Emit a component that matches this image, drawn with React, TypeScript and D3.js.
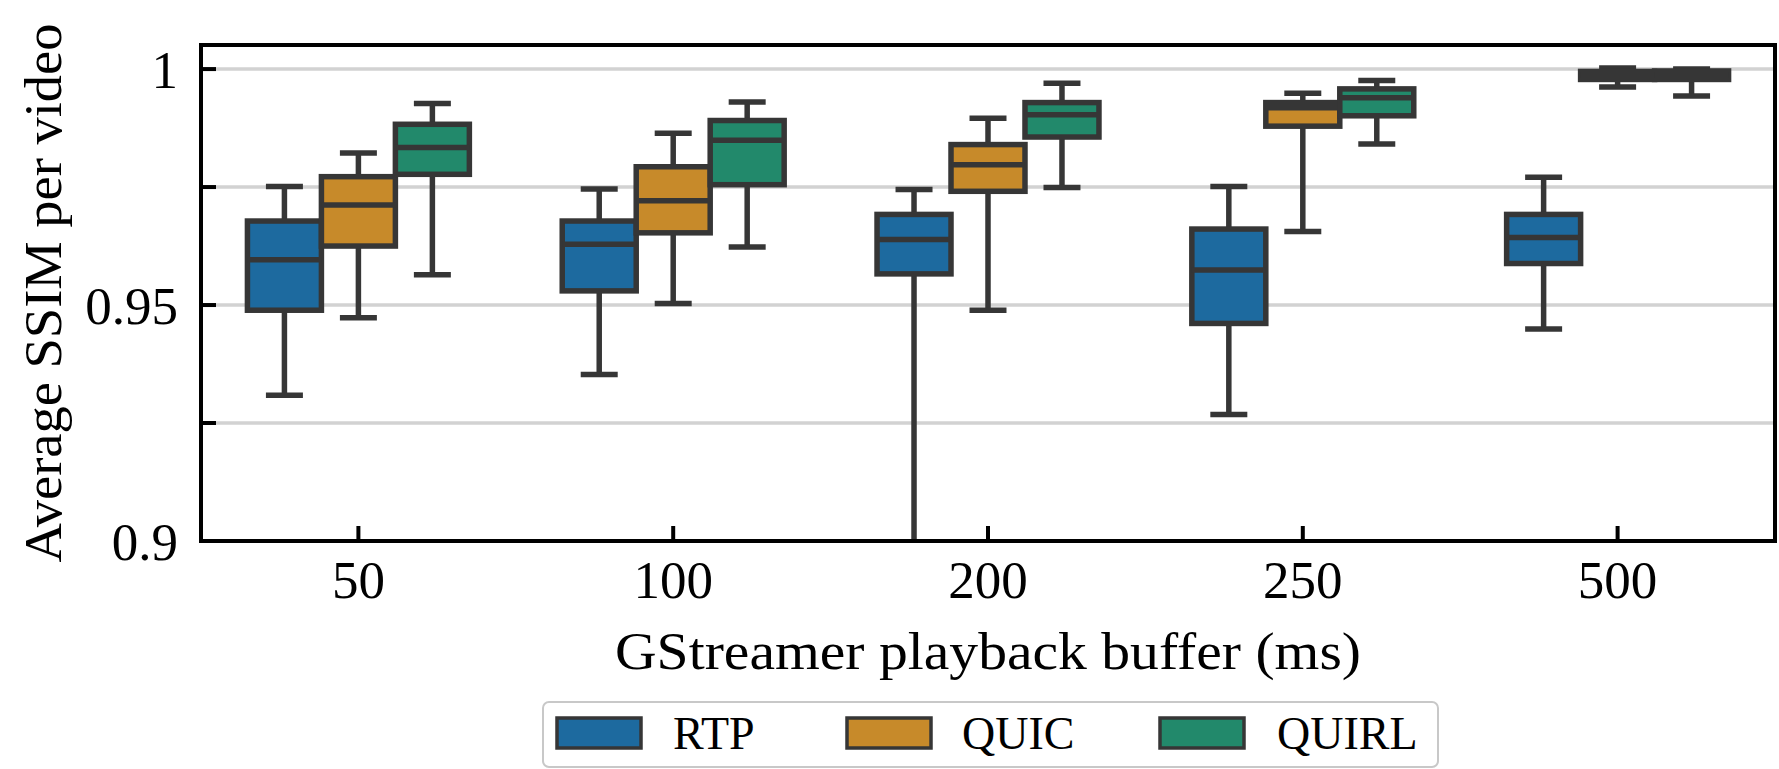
import React from "react";
import * as d3 from "d3";

// ---- data ----
const categories = ["50", "100", "200", "250", "500"];
const seriesNames = ["RTP", "QUIC", "QUIRL"];
const seriesColors = ["#1d6a9f", "#c78a2a", "#22896b"];
// each entry: [lowerWhisker, q1, median, q3, upperWhisker]
const rtpStats = [
  [0.9309, 0.9489, 0.9596, 0.9678, 0.9751],
  [0.9353, 0.953, 0.9629, 0.9678, 0.9746],
  [0.88, 0.9566, 0.9639, 0.9692, 0.9745],
  [0.9268, 0.9461, 0.9574, 0.9661, 0.9751],
  [0.9449, 0.9588, 0.9643, 0.9692, 0.9771],
];
const quicStats = [
  [0.9473, 0.9625, 0.9712, 0.9772, 0.9822],
  [0.9503, 0.9653, 0.9721, 0.9793, 0.9864],
  [0.9489, 0.9741, 0.9797, 0.984, 0.9896],
  [0.9656, 0.9879, 0.9918, 0.9929, 0.9949],
  [0.9962, 0.9978, 0.9987, 0.9995, 1.0002],
];
const quirlStats = [
  [0.9564, 0.9777, 0.9834, 0.9883, 0.9927],
  [0.9623, 0.9755, 0.9849, 0.9891, 0.993],
  [0.9749, 0.9856, 0.9903, 0.9929, 0.997],
  [0.9841, 0.9901, 0.9939, 0.9958, 0.9976],
  [0.9943, 0.9978, 0.9988, 0.9996, 1.0],
];
const seriesStats = [rtpStats, quicStats, quirlStats];
const yMajorTicks = [0.9, 0.95, 1.0];
const yMajorLabels = ["0.9", "0.95", "1"];
const yMinorTicks = [0.925, 0.975];
const xLabel = "GStreamer playback buffer (ms)";
const yLabel = "Average SSIM per video";

// ---- layout ----
const W = 1779;
const H = 769;
const left = 201;
const right = 1775;
const top = 45;
const bottom = 541;
const FONT = "'Liberation Serif', 'Times New Roman', serif";
const EDGE = "#363636";
const LW = 5.5;

export default function App() {
  const x = d3.scaleLinear().domain([-0.5, categories.length - 0.5]).range([left, right]);
  const y = d3.scaleLinear().domain([0.9, 1.0051]).range([bottom, top]);
  const hueW = 0.235;
  const bw = x(hueW) - x(0);
  const allTicks = [...yMajorTicks, ...yMinorTicks];

  const legendItems = [
    { patch: 557, text: 673 },
    { patch: 847, text: 962 },
    { patch: 1160, text: 1277 },
  ];

  return (
    <svg width={W} height={H} style={{ position: "absolute", left: 0, top: 0, background: "#fff" }}>
      <defs>
        <clipPath id="plot">
          <rect x={left} y={top} width={right - left} height={bottom - top} />
        </clipPath>
      </defs>
      <rect x={0} y={0} width={W} height={H} fill="#fff" />
      {/* gridlines */}
      {allTicks.map((t) => (
        <line key={"g" + t} x1={left} x2={right} y1={y(t)} y2={y(t)} stroke="#d2d2d2" strokeWidth={3.5} />
      ))}
      {/* boxes */}
      <g clipPath="url(#plot)">
        {seriesStats.map((stats, si) =>
          stats.map((s, ci) => {
            const cx = x(ci + (si - 1) * hueW);
            const [lo, q1, med, q3, hi] = s;
            const x0 = cx - bw / 2;
            const capHalf = bw / 4;
            return (
              <g key={si + "-" + ci}>
                <line x1={cx} x2={cx} y1={y(q1)} y2={y(lo)} stroke={EDGE} strokeWidth={LW} />
                <line x1={cx} x2={cx} y1={y(q3)} y2={y(hi)} stroke={EDGE} strokeWidth={LW} />
                <line x1={cx - capHalf} x2={cx + capHalf} y1={y(lo)} y2={y(lo)} stroke={EDGE} strokeWidth={LW} />
                <line x1={cx - capHalf} x2={cx + capHalf} y1={y(hi)} y2={y(hi)} stroke={EDGE} strokeWidth={LW} />
                <rect
                  x={x0}
                  y={y(q3)}
                  width={bw}
                  height={y(q1) - y(q3)}
                  fill={seriesColors[si]}
                  stroke={EDGE}
                  strokeWidth={LW}
                />
                <line x1={x0} x2={x0 + bw} y1={y(med)} y2={y(med)} stroke={EDGE} strokeWidth={LW} />
              </g>
            );
          })
        )}
      </g>
      {/* spines */}
      <rect x={left} y={top} width={right - left} height={bottom - top} fill="none" stroke="#000" strokeWidth={4} />
      {/* y ticks */}
      {allTicks.map((t) => (
        <line key={"yt" + t} x1={left} x2={left + 15} y1={y(t)} y2={y(t)} stroke="#000" strokeWidth={4} />
      ))}
      {yMajorTicks.map((t, i) => (
        <text key={"yl" + t} x={178} y={y(t)} dy="0.35em" textAnchor="end" fontFamily={FONT} fontSize={53} fill="#000">
          {yMajorLabels[i]}
        </text>
      ))}
      {/* x ticks */}
      {categories.map((c, i) => (
        <g key={"xt" + c}>
          <line x1={x(i)} x2={x(i)} y1={bottom} y2={bottom - 15} stroke="#000" strokeWidth={4} />
          <text x={x(i)} y={598} textAnchor="middle" fontFamily={FONT} fontSize={53} fill="#000">
            {c}
          </text>
        </g>
      ))}
      {/* axis labels */}
      <text
        x={(left + right) / 2}
        y={669}
        textAnchor="middle"
        fontFamily={FONT}
        fontSize={53}
        textLength={746}
        lengthAdjust="spacingAndGlyphs"
        fill="#000"
      >
        {xLabel}
      </text>
      <text
        transform={`translate(61, ${(top + bottom) / 2}) rotate(-90)`}
        textAnchor="middle"
        fontFamily={FONT}
        fontSize={53}
        textLength={539}
        lengthAdjust="spacingAndGlyphs"
        fill="#000"
      >
        {yLabel}
      </text>
      {/* legend */}
      <rect x={543} y={702} width={895} height={65} rx={6} fill="#fff" stroke="#c8c8c8" strokeWidth={2} />
      {seriesNames.map((n, i) => (
        <g key={"lg" + n}>
          <rect
            x={legendItems[i].patch}
            y={718}
            width={84}
            height={30}
            fill={seriesColors[i]}
            stroke={EDGE}
            strokeWidth={3.5}
          />
          <text x={legendItems[i].text} y={749} fontFamily={FONT} fontSize={46} fill="#000">
            {n}
          </text>
        </g>
      ))}
    </svg>
  );
}
